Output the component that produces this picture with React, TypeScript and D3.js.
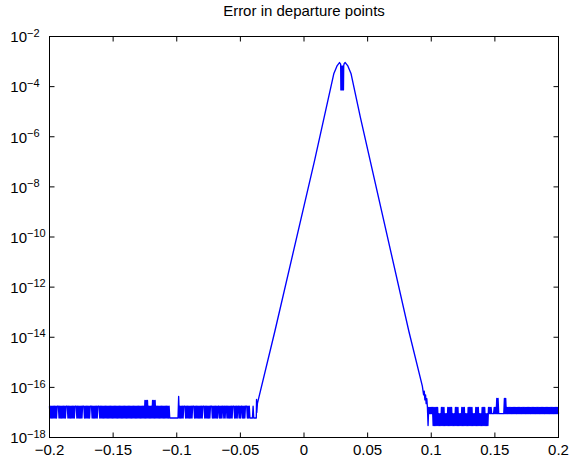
import React from 'react';
import * as d3 from 'd3';

const W = 570;
const H = 457;

const TITLE = 'Error in departure points';
const X_TICKS = [-0.2, -0.15, -0.1, -0.05, 0, 0.05, 0.1, 0.15, 0.2];
const X_LABELS = ['\u22120.2', '\u22120.15', '\u22120.1', '\u22120.05', '0', '0.05', '0.1', '0.15', '0.2'];
const Y_EXPONENTS = [-2, -4, -6, -8, -10, -12, -14, -16, -18];

// noise level codes (log10 of error)
const NOISE_CODES = ['h', 'l', 's', 't', 'H', 'M', 'L', 'u'];
const NOISE_LEVELS = [-16.75, -17.22, -16.52, -16.36, -16.8, -17.05, -17.52, -16.44];
const NOISE_STEP = 0.0005;

const LEFT_START = -0.2;
const LEFT_NOISE = [
  'hlhlhlhlhlhl', 'hhh', 'lhlhlhlhlhl', 'hhh', 'lhlhlhlhlhl', 'hhh', 'lhlhlhlhl', 'hhh',
  'lhlhlhlhl', 'hhh', 'lhlhlhlhl', 'hhh',
  'lhlhlhlhlh', 'lhlhlhlhlh', 'lhlhlhlhlh', 'lhlhlhlhlh', 'lhlhlhlhlh', 'lhlhlhlhlh', 'lhlhlhlhlh', 'l',
  'slslsl', 'hlhlhl', 'slslsl', 'hlhlhlhlhlhlhlhlhlhlhl', 'lllllllllllll', 'tl',
  'hlhlhl', 'hhh', 'lhlhlhlhlhl', 'hhh', 'lhlhlhlhlhlhl', 'hhh', 'lhlhlhlhl', 'hhh',
  'lhlhlhlhl', 'hh', 'lhlhl', 'hh', 'lhl', 'hh', 'lhlhlhlhl', 'hhh', 'lhlhl', 'hh',
  'lhl', 'hh', 'lhlhl', 'hhh', 'lhlhl', 'llllhllll',
].join('');

const RIGHT_START = 0.0975;
const RIGHT_NOISE = [
  'LHMHMHMH', 'LHLHLHLH', 'LMLM', 'LHLHLH', 'LMLM', 'LHLHLHLH', 'LMLM', 'LHLHLH', 'LMLM',
  'LHLHLH', 'LMLM', 'LHLHLHLH', 'LMLM', 'LHLHLH', 'LMLM', 'LHLHLH', 'LMLM', 'LH',
  'MHMHM', 'MMM', 'HMHM', 'uMu', 'MMMMMMMMM', 'uMuM',
  'HMHMHMHMHM', 'HMHMHMHMHM', 'HMHMHMHMHM', 'HMHMHMHMHM', 'HMHMHMHMHM', 'HMHMHMHMHM',
  'HMHMHMHMHM', 'HMHMHMHMHM', 'HM',
].join('');

// main curve (x, log10 error)
const CURVE_X = [
  -0.0375, -0.0373, -0.0371, -0.0366, -0.0229, 0.00825, 0.0234, 0.0261, 0.0279, 0.0288,
  0.029, 0.0292, 0.0294, 0.0296, 0.0298, 0.03, 0.0302, 0.0304, 0.0306, 0.0308, 0.031, 0.0312,
  0.0316, 0.0324, 0.0343, 0.037, 0.0444, 0.0824, 0.093, 0.094, 0.0945, 0.095, 0.0955, 0.096,
  0.0965, 0.097,
];
const CURVE_LOG = [
  -17.22, -16.48, -17.0, -16.64, -13.76, -6.96, -3.49, -3.16, -3.04, -3.1,
  -4.13, -3.18, -4.13, -3.18, -4.13, -3.18, -4.13, -3.18, -4.13, -3.18, -4.13, -3.16,
  -3.08, -3.04, -3.16, -3.49, -5.25, -13.76, -15.95, -16.3, -16.15, -16.5, -16.3, -16.65,
  -16.45, -16.8,
];

const FONT = 'Liberation Sans, Arial, Helvetica, sans-serif';

function expand(codes: string, start: number): [number, number][] {
  return codes.split('').map((c, i) => [start + i * NOISE_STEP, NOISE_LEVELS[NOISE_CODES.indexOf(c)]]);
}

export default function App() {
  const x = d3.scaleLinear().domain([-0.2, 0.2]).range([49.5, 558.5]);
  const y = d3.scaleLog().domain([1e-18, 1e-2]).range([437.5, 36.5]);

  const curve: [number, number][] = CURVE_X.map((v, i) => [v, CURVE_LOG[i]]);
  const pts: [number, number][] = [
    ...expand(LEFT_NOISE, LEFT_START),
    ...curve,
    ...expand(RIGHT_NOISE, RIGHT_START),
  ];
  const line = d3
    .line<[number, number]>()
    .x((d) => x(d[0]))
    .y((d) => y(Math.pow(10, d[1])));

  const [x0, x1] = x.range();
  const [y0, y1] = y.range();
  const tl = 5;

  return (
    <svg
      width={W}
      height={H}
      style={{ position: 'absolute', left: 0, top: 0, background: '#fff' }}
      fontFamily={FONT}
    >
      <rect x={0} y={0} width={W} height={H} fill="#fff" />
      <path d={line(pts) || ''} fill="none" stroke="#0000ff" strokeWidth={1.35} strokeLinejoin="round" />
      <rect x={x0} y={y1} width={x1 - x0} height={y0 - y1} fill="none" stroke="#000" strokeWidth={1} />
      {X_TICKS.map((t, i) => (
        <g key={'xt' + i}>
          <line x1={x(t)} x2={x(t)} y1={y0} y2={y0 - tl} stroke="#000" />
          <line x1={x(t)} x2={x(t)} y1={y1} y2={y1 + tl} stroke="#000" />
          <text x={x(t)} y={454.5} fontSize={15} textAnchor="middle" fill="#000">
            {X_LABELS[i]}
          </text>
        </g>
      ))}
      {Y_EXPONENTS.map((e, i) => {
        const yy = y(Math.pow(10, e));
        return (
          <g key={'yt' + i}>
            <line x1={x0} x2={x0 + tl} y1={yy} y2={yy} stroke="#000" />
            <line x1={x1} x2={x1 - tl} y1={yy} y2={yy} stroke="#000" />
            <text x={27} y={yy + 5.8} fontSize={15} textAnchor="end" fill="#000">
              10
            </text>
            <text x={27} y={yy + 0.2} fontSize={11} textAnchor="start" fill="#000">
              {'\u2212' + Math.abs(e)}
            </text>
          </g>
        );
      })}
      <text x={(x0 + x1) / 2} y={16} fontSize={15} textAnchor="middle" fill="#000">
        {TITLE}
      </text>
    </svg>
  );
}
